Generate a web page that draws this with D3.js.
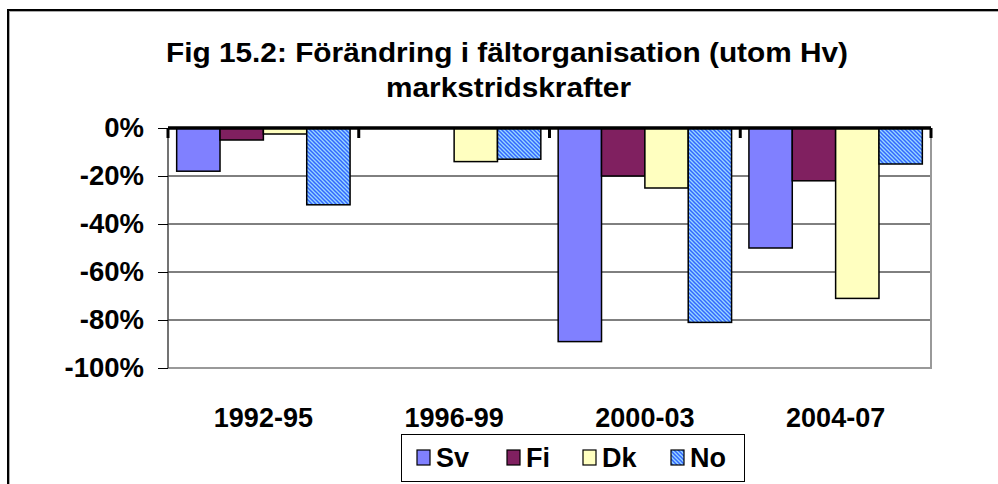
<!DOCTYPE html>
<html><head><meta charset="utf-8">
<script src="https://cdn.jsdelivr.net/npm/d3@7/dist/d3.min.js"></script>
<style>body{margin:0;background:#fff}svg{display:block}text{font-family:"Liberation Sans",Arial,sans-serif;font-weight:bold;fill:#000}</style>
</head><body>
<svg id="c" width="998" height="484"></svg>
<script>
const categories = ["1992-95", "1996-99", "2000-03", "2004-07"];
const seriesNames = ["Sv", "Fi", "Dk", "No"];
const sv = [-18, null, -89, -50];
const fi = [-5, null, -20, -22];
const dk = [-2.5, -14, -25, -71];
const no = [-32, -13, -81, -15];
const yTicks = [0, -20, -40, -60, -80, -100];
const titleLines = ["Fig 15.2: Förändring  i fältorganisation (utom Hv)", "markstridskrafter"];

const series = [sv, fi, dk, no];
const svg = d3.select("#c");
const defs = svg.append("defs");
const pat = defs.append("pattern").attr("id","hatch").attr("patternUnits","userSpaceOnUse")
  .attr("width",4).attr("height",4);
pat.append("rect").attr("width",4).attr("height",4).attr("fill","#99d8ff");
pat.append("path").attr("d","M-1,-1 L5,5 M-1,3 L1,5 M3,-1 L5,1").attr("stroke","#3366ff").attr("stroke-width",1.5);
const fills = ["#8080ff", "#802060", "#ffffc0", "url(#hatch)"];

// outer frame
svg.append("path").attr("d","M9,485 V11 H999").attr("fill","none").attr("stroke","#aaa").attr("stroke-width",2);
svg.append("path").attr("d","M8,485 V10 H999").attr("fill","none").attr("stroke","#000").attr("stroke-width",2);

const L=168, R=931, T=128, B=368;
const x = d3.scaleBand().domain(categories).range([L,R]).paddingInner(0).paddingOuter(0);
const xi = d3.scaleBand().domain(seriesNames).range([0,x.bandwidth()]).paddingInner(0).paddingOuter(0.2);
const y = d3.scaleLinear().domain([-100,0]).range([B,T]);

// gridlines
svg.append("g").selectAll("line").data(yTicks.filter(d=>d<0 && d>-100)).join("line")
  .attr("x1",L).attr("x2",R).attr("y1",d=>y(d)).attr("y2",d=>y(d)).attr("stroke","#000").attr("stroke-width",1);
// plot border right/bottom
svg.append("path").attr("d",`M${L},${B} H${R} V${T}`).attr("fill","none").attr("stroke","#999").attr("stroke-width",2);

// bars
series.forEach((vals,si)=>{
  svg.append("g").selectAll("rect").data(categories.map((c,i)=>({c,v:vals[i]})).filter(d=>d.v!=null)).join("rect")
    .attr("x",d=>x(d.c)+xi(seriesNames[si]))
    .attr("width",xi.bandwidth())
    .attr("y",y(0))
    .attr("height",d=>y(d.v)-y(0))
    .attr("fill",fills[si]).attr("stroke","#000").attr("stroke-width",1.5);
});

// y axis
const ya = d3.axisLeft(y).tickValues(yTicks).tickSize(10).tickPadding(14).tickFormat(d=>d+"%");
const yg = svg.append("g").attr("transform",`translate(${L},0)`).call(ya);
yg.select(".domain").attr("stroke","#444").attr("stroke-width",1.5).attr("d",`M0,${T}V${B}`);
yg.selectAll(".tick line").attr("stroke","#000");
yg.selectAll(".tick text").attr("font-size",27.5).attr("font-family","Liberation Sans, Arial, sans-serif").attr("font-weight","bold").attr("fill","#000");

// zero line with ticks at category boundaries
const bounds = categories.map(c=>x(c)).concat([R]);
svg.append("line").attr("x1",L).attr("x2",R).attr("y1",y(0)).attr("y2",y(0)).attr("stroke","#000").attr("stroke-width",3.5);
svg.append("g").selectAll("line").data(bounds).join("line")
  .attr("x1",d=>d).attr("x2",d=>d).attr("y1",y(0)).attr("y2",y(0)+10).attr("stroke","#000").attr("stroke-width",3);

// x labels
svg.append("g").selectAll("text").data(categories).join("text")
  .attr("x",d=>x(d)+x.bandwidth()/2).attr("y",427).attr("text-anchor","middle").attr("font-size",27).text(d=>d);

// title
const tl = [682, 245];
svg.append("g").selectAll("text").data(titleLines).join("text")
  .attr("x",(d,i)=>[166,386][i]).attr("y",(d,i)=>[62,97][i]).attr("font-size",28)
  .attr("textLength",(d,i)=>tl[i]).attr("lengthAdjust","spacingAndGlyphs").text(d=>d);

// legend
const lg = svg.append("g");
lg.append("rect").attr("x",401.5).attr("y",434.5).attr("width",343).attr("height",47).attr("fill","#fff").attr("stroke","#000").attr("stroke-width",1);
const lx = [417, 507, 583, 671];
seriesNames.forEach((n,i)=>{
  lg.append("rect").attr("x",lx[i]).attr("y",450).attr("width",13).attr("height",15).attr("fill",fills[i]).attr("stroke","#000").attr("stroke-width",1.2);
  lg.append("text").attr("x",lx[i]+19).attr("y",467).attr("font-size",27).text(n);
});
</script>
</body></html>
